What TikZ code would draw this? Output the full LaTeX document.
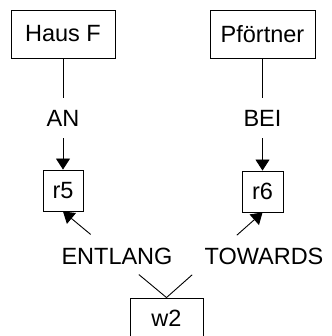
\documentclass[tikz,border=0pt]{standalone}
\usepackage{fontspec}
\setmainfont{Liberation Sans}
\usetikzlibrary{arrows.meta}
\begin{document}
\begin{tikzpicture}[x=1pt,y=-1pt,
  every node/.style={font=\fontsize{23.5}{28}\selectfont, inner sep=0pt, text=black},
  box/.style={draw=black, line width=0.9pt},
  lbl/.style={minimum height=40pt},
  conn/.style={line width=0.9pt, draw=black},
  arr/.style={conn, -{Triangle[width=14pt,length=11pt]}}]
\useasboundingbox (0,0) rectangle (331,336);
\node[box, minimum width=104pt, minimum height=48pt] (hausf) at (63,34) {Haus F};
\node[box, minimum width=105pt, minimum height=48pt] (pf) at (262.5,34) {Pförtner};
\node[box, minimum width=40pt, minimum height=41pt] (r5) at (63,190.5) {r5};
\node[box, minimum width=41pt, minimum height=41pt] (r6) at (262.5,191.5) {r6};
\node[box, minimum width=73pt, minimum height=41pt] (w2) at (166.5,318.5) {w2};
\node[lbl] (an) at (63,118) {AN};
\node[lbl] (bei) at (262.5,118) {BEI};
\node (entlang) at (117,256) {ENTLANG};
\node (towards) at (264,256) {TOWARDS};
\draw[conn] (hausf) -- (an);
\draw[arr] (an) -- (r5);
\draw[conn] (pf) -- (bei);
\draw[arr] (bei) -- (r6);
\path (w2.north) -- (r5.south) coordinate[pos=0.267] (e1) coordinate[pos=0.733] (e2);
\path (w2.north) -- (r6.south) coordinate[pos=0.267] (t1) coordinate[pos=0.733] (t2);
\draw[conn] (w2.north) -- (e1);
\draw[arr] (e2) -- (r5.south);
\draw[conn] (w2.north) -- (t1);
\draw[arr] (t2) -- (r6.south);
\end{tikzpicture}
\end{document}
